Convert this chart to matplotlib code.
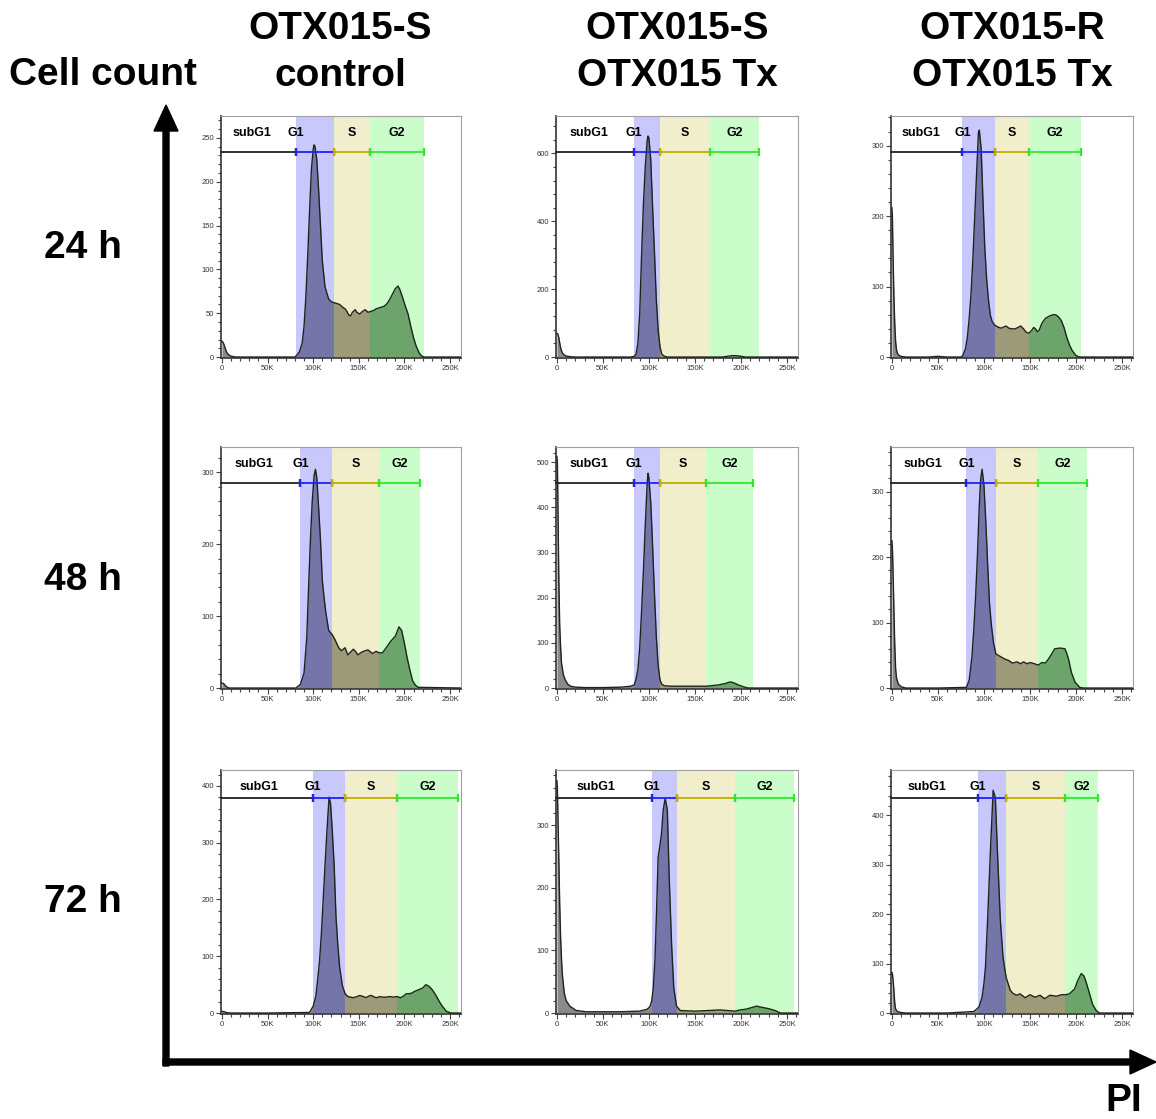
import numpy as np
import matplotlib
matplotlib.use('Agg')
import matplotlib.pyplot as plt
import matplotlib.transforms as mtransforms
from matplotlib.patches import Rectangle
from matplotlib.ticker import MultipleLocator, FuncFormatter

plt.rcParams['font.family'] = ['Liberation Sans', 'DejaVu Sans']

# titles
col_titles = [('OTX015-S', 'control'), ('OTX015-S', 'OTX015 Tx'), ('OTX015-R', 'OTX015 Tx')]
row_titles = ['24 h', '48 h', '72 h']
gate_names = ['subG1', 'G1', 'S', 'G2']

# PI (in K) and cell counts
# 24 h, OTX015-S control
pi_24_sc = [0, 1, 2, 3, 4, 5, 6, 8, 10, 15, 40, 70, 80, 82, 85, 88, 90, 92, 94, 96,
            98, 100, 101, 102, 104, 106, 108, 110, 113, 117, 120, 123, 126, 129, 132, 135, 137, 139, 141, 143,
            146, 148, 151, 154, 157, 160, 163, 166, 169, 172, 175, 178, 181, 184, 187, 190, 193, 195, 198, 201,
            204, 207, 210, 213, 216, 219, 222, 262]
cnt_24_sc = [18, 17, 15, 12, 9, 6, 4, 2, 1, 0, 0, 0, 0, 2, 6, 16, 35, 69, 115, 165,
             213, 237, 242, 240, 225, 190, 150, 110, 80, 66, 63, 62, 61, 60, 57, 55, 52, 48, 47, 51,
             54, 51, 49, 52, 54, 51, 52, 53, 55, 56, 57, 58, 61, 66, 72, 78, 81, 77, 68, 58,
             49, 35, 22, 12, 5, 1, 0, 0]
gates_24_sc = [81, 123, 162.6, 221]

# 24 h, OTX015-S OTX015 Tx
pi_24_st = [0, 1, 2, 3, 4, 5, 6, 8, 10, 12, 15, 20, 30, 60, 80, 84, 86, 88, 90, 92,
            94, 96, 98, 99, 100, 102, 104, 106, 108, 110, 112, 114, 117, 120, 140, 180, 185, 190, 195, 200,
            205, 262]
cnt_24_st = [70, 68, 58, 42, 28, 18, 12, 6, 3, 2, 1, 0, 0, 0, 0, 2, 8, 40, 130, 300,
             450, 560, 635, 651, 645, 580, 440, 310, 170, 80, 30, 8, 2, 0, 0, 0, 2, 4, 4, 2,
             0, 0]
gates_24_st = [84, 112, 166.5, 220]

# 24 h, OTX015-R OTX015 Tx
pi_24_rt = [0, 0.5, 1, 2, 3, 4, 5, 6, 8, 10, 15, 40, 50, 60, 75, 77, 80, 82, 84, 86,
            88, 90, 92, 94, 95, 97, 99, 101, 103, 105, 107, 109, 112, 116, 119, 122, 124, 127, 130, 134,
            137, 140, 143, 146, 149, 152, 154, 156, 158, 160, 163, 167, 171, 175, 178, 181, 184, 187, 190, 193,
            196, 200, 204, 262]
cnt_24_rt = [212, 200, 160, 95, 50, 22, 10, 5, 2, 1, 0, 0, 1, 0, 0, 2, 12, 28, 55, 90,
             140, 200, 260, 318, 322, 295, 220, 153, 110, 80, 59, 50, 45, 42, 41, 43, 44, 41, 40, 40,
             42, 44, 40, 35, 34, 38, 42, 40, 36, 38, 48, 55, 58, 60, 60, 57, 52, 42, 28, 17,
             9, 2, 0, 0]
gates_24_rt = [76.6, 112, 149, 206]

# 48 h, OTX015-S control
pi_48_sc = [0, 2, 4, 6, 8, 40, 81, 86, 90, 93, 95, 97, 99, 101, 102.5, 104, 106, 108, 110, 112,
            114, 117, 121, 124, 128, 131, 135, 138, 141, 144, 147, 149, 152, 155, 160, 165, 169, 172, 176, 180,
            185, 190, 194, 197, 200, 203, 206, 209, 212, 215, 262]
cnt_48_sc = [7, 6, 3, 1, 0, 0, 0, 5, 21, 70, 140, 206, 260, 295, 304, 292, 250, 206, 150, 125,
             104, 80, 74, 67, 56, 52, 56, 46, 50, 54, 50, 46, 49, 51, 53, 48, 51, 49, 49, 56,
             65, 72, 85, 80, 62, 42, 25, 10, 4, 1, 0]
gates_48_sc = [86, 121, 172, 217.6]

# 48 h, OTX015-S OTX015 Tx
pi_48_st = [0, 0.5, 1, 2, 3, 4, 5, 7, 9, 12, 15, 20, 30, 50, 70, 80, 84, 86, 88, 90,
            92, 94, 96, 98, 99, 100, 102, 104, 106, 108, 110, 112, 114, 117, 125, 140, 155, 162, 167, 176,
            183, 187, 190, 194, 197, 201, 204, 208, 262]
cnt_48_st = [513, 500, 420, 250, 140, 90, 55, 30, 18, 8, 4, 2, 1, 1, 2, 4, 7, 20, 41, 90,
             170, 260, 360, 450, 476, 465, 410, 314, 210, 115, 50, 18, 8, 5, 4, 4, 4, 4, 5, 7,
             10, 13, 13, 10, 7, 4, 2, 0, 0]
gates_48_st = [84, 112, 162, 213]

# 48 h, OTX015-R OTX015 Tx
pi_48_rt = [0, 0.5, 1, 2, 3, 4, 5, 7, 10, 15, 50, 81, 84, 87, 89, 91, 93, 95, 96.5, 98,
            100, 102, 104, 106, 108, 110.5, 113, 118, 123, 127, 131, 136, 140, 143, 147, 150, 155, 159, 163, 166.5,
            170, 174, 177, 183, 188, 190, 192, 195, 199, 204, 208, 262]
cnt_48_rt = [225, 215, 190, 130, 70, 30, 15, 6, 2, 0, 0, 1, 12, 48, 90, 141, 205, 280, 320, 334,
             310, 255, 190, 130, 97, 68, 52, 48, 44, 42, 38, 40, 37, 40, 37, 39, 37, 35, 39, 38,
             44, 53, 60, 61, 60, 53, 44, 24, 9, 1, 0, 0]
gates_48_rt = [81, 112.6, 159, 212]

# 72 h, OTX015-S control
pi_72_sc = [0, 3, 6, 9, 50, 96, 100, 103, 105, 107, 109, 111, 113, 115, 117.4, 119, 121, 123, 125, 127,
            129, 132, 135, 138, 141, 144, 148, 151, 155, 158, 161, 164, 167, 170, 173, 176, 180, 184, 188, 191.5,
            196, 199, 202, 205, 208, 211, 214, 217, 220, 223.5, 227, 230, 233, 236, 239, 242, 246, 251, 262]
cnt_72_sc = [3, 2, 0.5, 0, 0, 1, 12, 30, 60, 92, 140, 200, 260, 318, 380, 370, 320, 260, 170, 120,
             81, 48, 34, 29, 28, 27, 29, 31, 29, 27, 30, 31, 28, 27, 29, 28, 28, 29, 28, 29,
             27, 30, 34, 34, 35, 38, 40, 42, 44, 50, 47, 42, 35, 27, 18, 11, 3, 0, 0]
gates_72_sc = [100, 135, 191.5, 259]

# 72 h, OTX015-S OTX015 Tx
pi_72_st = [0, 0.5, 1, 2, 3, 4, 5, 6, 8, 10, 14, 21, 32, 68, 90, 98, 101, 103, 104.7, 106.5,
            108.3, 110, 112, 113.7, 115.5, 117.7, 120, 122, 124.6, 127, 130, 134, 150, 165, 177, 185, 193.7, 199, 205, 210,
            217, 223, 230, 237, 243, 262]
cnt_72_st = [371, 360, 320, 250, 175, 120, 85, 60, 32, 20, 11, 4, 2, 2, 3, 6, 10, 19, 40, 83,
             163, 249, 268, 287, 324, 343, 324, 217, 110, 40, 11, 4, 3, 4, 5, 4, 3, 5, 6, 8,
             11, 9, 7, 4, 0, 0]
gates_72_st = [103, 130, 193.7, 258]

# 72 h, OTX015-R OTX015 Tx
pi_72_rt = [0, 0.5, 1, 2, 3, 4, 6, 10, 15, 60, 89, 94.5, 98, 100, 101.7, 104, 107, 110, 112.4, 115,
            117.8, 120.7, 124, 128.6, 132, 136, 139, 142, 144.8, 150, 155.5, 161, 166, 171.7, 178.9, 184, 188.6, 193, 198.6, 202,
            205.8, 208.7, 211, 214.8, 218, 222, 225.6, 262]
cnt_72_rt = [82, 80, 72, 50, 22, 8, 3, 1, 0, 0, 3, 12, 32, 60, 94, 189, 326, 451, 436, 312,
             189, 114, 73, 46, 39, 36, 39, 35, 31, 37, 32, 36, 29, 36, 34, 37, 37, 39, 49, 66,
             80, 75, 63, 39, 18, 5, 0, 0]
gates_72_rt = [93.75, 124, 188.6, 224.5]

# y-axis top and tick step of each panel
y_top = [[275, 710, 342], [335, 534, 368], [428, 388, 492]]
y_step = [[50, 200, 100], [100, 100, 100], [100, 100, 100]]

panels = [[(pi_24_sc, cnt_24_sc, gates_24_sc), (pi_24_st, cnt_24_st, gates_24_st), (pi_24_rt, cnt_24_rt, gates_24_rt)],
          [(pi_48_sc, cnt_48_sc, gates_48_sc), (pi_48_st, cnt_48_st, gates_48_st), (pi_48_rt, cnt_48_rt, gates_48_rt)],
          [(pi_72_sc, cnt_72_sc, gates_72_sc), (pi_72_st, cnt_72_st, gates_72_st), (pi_72_rt, cnt_72_rt, gates_72_rt)]]

# colours
band_cols = ['#c8c8fd', '#f1efcb', '#cafdca']
fill_cols = ['#8a8a8a', '#7575aa', '#9c9a78', '#6ca46c']
bar_cols = ['#222222', '#1f1fff', '#c0ae00', '#2ee82e']

W, H = 1156, 1119
fig = plt.figure(figsize=(W / 100, H / 100), dpi=100)

# background layer in pixel units for arrows and titles
ov = fig.add_axes([0, 0, 1, 1], zorder=-1)
ov.set_xlim(0, W)
ov.set_ylim(H, 0)
ov.axis('off')
ov.arrow(166, 1066, 0, -961, width=6, head_width=24, head_length=26,
         length_includes_head=True, fc='black', ec='black')
ov.arrow(163, 1062, 993, 0, width=6, head_width=24, head_length=26,
         length_includes_head=True, fc='black', ec='black')

big = dict(fontsize=28, fontweight='bold', ha='center', va='baseline')
ov.text(103, 85, 'Cell count', **big)
ov.text(1124, 1111, 'PI', **big)
for cx, (l1, l2) in zip([340, 677, 1012], col_titles):
    ov.text(cx, 39, l1, **big)
    ov.text(cx, 86, l2, **big)
for by, t in zip([258, 590, 912], row_titles):
    ov.text(83, by, t, **big)

# panel boxes (pixels)
col_left = [221, 556, 891]
col_w = [240, 242, 242]
row_top = [116, 447, 770]
row_bot = [358, 689, 1014]
bar_frac = [0.853, 0.853, 0.885]

kfmt = FuncFormatter(lambda v, p: '0' if v == 0 else '%dK' % v)

for r in range(3):
    for c in range(3):
        x, y, gates = panels[r][c]
        x = np.array(x)
        y = np.array(y)
        g1, s0, g2, g2e = gates
        top = y_top[r][c]
        ax = fig.add_axes([col_left[c] / W, 1 - row_bot[r] / H, col_w[c] / W,
                           (row_bot[r] - row_top[r]) / H])
        ax.set_xlim(-1, 262)
        ax.set_ylim(-0.004 * top, top)

        edges = [-5, g1, s0, g2, g2e]
        for i in range(3):
            ax.axvspan(edges[i + 1], edges[i + 2], color=band_cols[i], lw=0, zorder=0)
        for i in range(4):
            poly = ax.fill_between(x, 0, y, color=fill_cols[i], lw=0, zorder=1)
            poly.set_clip_path(Rectangle((edges[i], -10), edges[i + 1] - edges[i], top * 2,
                                         transform=ax.transData))
        ax.plot(x, y, color='#1c241c', lw=1.0, zorder=3)

        # gate bar
        tr = mtransforms.blended_transform_factory(ax.transData, ax.transAxes)
        by = bar_frac[r]
        bar_edges = [-1, g1, s0, g2, g2e]
        for i in range(4):
            ax.plot([bar_edges[i], bar_edges[i + 1]], [by, by], color=bar_cols[i], lw=1.3,
                    transform=tr, zorder=4, clip_on=False)
            marks = [1] if i == 0 else [0, 1]
            ax.plot([bar_edges[i], bar_edges[i + 1]], [by, by], ls='none', marker='|',
                    ms=6, mew=1.6, color=bar_cols[i], markevery=marks, transform=tr, zorder=5)
        label_x = [0.41 * g1, g1, (s0 + g2) / 2, (g2 + g2e) / 2]
        for lx, name in zip(label_x, gate_names):
            ax.text(lx, 0.93, name, transform=tr, ha='center', va='center',
                    fontsize=9, fontweight='bold', zorder=6)

        ax.xaxis.set_major_locator(MultipleLocator(50))
        ax.xaxis.set_minor_locator(MultipleLocator(10))
        ax.xaxis.set_major_formatter(kfmt)
        ax.yaxis.set_major_locator(MultipleLocator(y_step[r][c]))
        ax.yaxis.set_minor_locator(MultipleLocator(y_step[r][c] / 5))
        ax.tick_params(which='both', direction='out', colors='#444444', labelsize=5.5,
                       labelcolor='#333333', pad=1.5, width=0.8)
        ax.tick_params(which='major', length=3.5)
        ax.tick_params(which='minor', length=2)
        for side in ['left', 'bottom']:
            ax.spines[side].set_color('#333333')
            ax.spines[side].set_linewidth(1.2)
        for side in ['top', 'right']:
            ax.spines[side].set_color('#a0a0a0')
            ax.spines[side].set_linewidth(0.8)

fig.savefig('out.png', dpi=100)
